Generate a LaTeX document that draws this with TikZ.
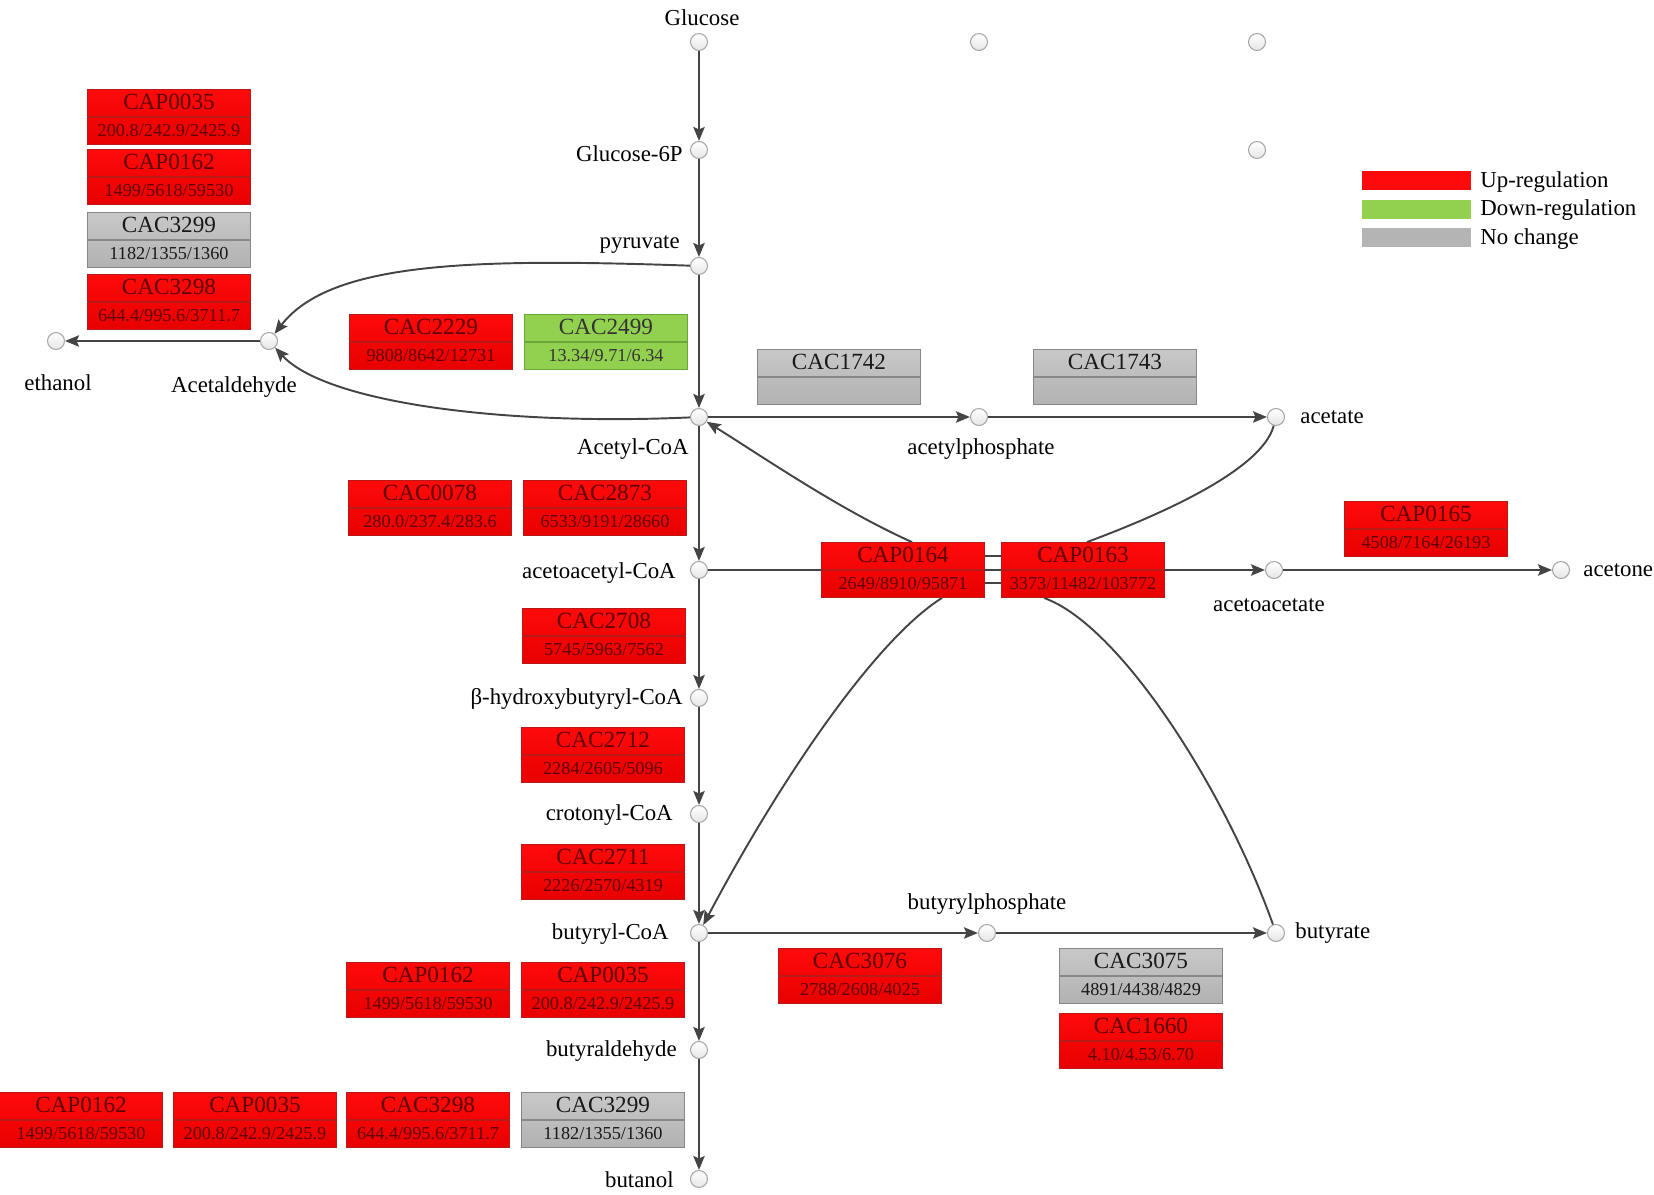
\documentclass[tikz,border=0pt]{standalone}
\usepackage{fontspec}
\setmainfont{Liberation Serif}
\usetikzlibrary{arrows.meta, shapes.multipart, calc}
\definecolor{upred}{RGB}{255,10,10}
\definecolor{upbot}{RGB}{232,0,0}
\definecolor{upedge}{RGB}{185,25,25}
\definecolor{uptext}{RGB}{95,0,0}
\definecolor{downgreen}{RGB}{146,208,80}
\definecolor{downedge}{RGB}{105,165,55}
\definecolor{nogray}{RGB}{200,200,200}
\definecolor{nobot}{RGB}{178,178,178}
\definecolor{noedge}{RGB}{135,135,135}
\definecolor{dark}{RGB}{68,68,68}
\newcommand{\gname}[1]{\rule[-4pt]{0pt}{15pt}\fontsize{13.2}{15}\selectfont #1}
\newcommand{\gval}[1]{\rule[-4pt]{0pt}{15pt}\fontsize{10.4}{12}\selectfont #1}
\tikzset{
    met/.style={circle, draw=gray!70, line width=0.6pt, top color=white, bottom color=gray!20, minimum size=0.34cm, inner sep=0pt},
    lab/.style={font=\fontsize{13}{15}\selectfont, inner sep=0pt},
    gene/.style={rectangle split, rectangle split parts=2, line width=0.6pt, minimum width=3.26cm, inner xsep=1pt, inner ysep=0pt, align=center},
    upbox/.style={gene, draw=upedge, top color=upred, bottom color=upbot, text=uptext},
    downbox/.style={gene, draw=downedge, fill=downgreen, text=black!80},
    nobox/.style={gene, draw=noedge, top color=nogray, bottom color=nobot, text=black!90},
    arr/.style={-{Stealth[length=8pt, width=6.5pt, inset=1.5pt]}, line width=1.1pt, dark},
    link/.style={line width=1.1pt, dark}
}
\begin{document}
\begin{tikzpicture}[x=0.02cm, y=-0.02cm]
    \useasboundingbox (0,0) rectangle (1654,1195);
    % metabolites
    \node[met] (glc) at (699,42) {};
    \node[met] (dummya) at (979,42) {};
    \node[met] (dummyb) at (1257,42) {};
    \node[met] (dummyc) at (1257,150) {};
    \node[met] (g6p) at (699,150) {};
    \node[met] (pyr) at (699,266) {};
    \node[met] (ald) at (269,341) {};
    \node[met] (etoh) at (56,341) {};
    \node[met] (acoa) at (699,417) {};
    \node[met] (acp) at (979,417) {};
    \node[met] (ace) at (1276,417) {};
    \node[met] (aacoa) at (699,570) {};
    \node[met] (aacet) at (1274,570) {};
    \node[met] (acetone) at (1561,570) {};
    \node[met] (hbcoa) at (699,698) {};
    \node[met] (crcoa) at (699,814) {};
    \node[met] (bcoa) at (699,933) {};
    \node[met] (bp) at (987,933) {};
    \node[met] (but) at (1276,933) {};
    \node[met] (bald) at (699,1050) {};
    \node[met] (buoh) at (699,1179) {};

    \node[lab] (lglc) at (702,18) {Glucose};
    \node[lab, anchor=east] (lg6p) at (683,154) {Glucose-6P};
    \node[lab, anchor=east] (lpyr) at (680,245) {pyruvate};
    \node[lab] (lald) at (234,387) {Acetaldehyde};
    \node[lab] (letoh) at (58,383) {ethanol};
    \node[lab, anchor=east] (lacoa) at (689,449) {Acetyl-CoA};
    \node[lab] (lacp) at (981,449) {acetylphosphate};
    \node[lab, anchor=west] (lace) at (1300,417) {acetate};
    \node[lab, anchor=east] (laacoa) at (676,573) {acetoacetyl-CoA};
    \node[lab] (laacet) at (1269,605) {acetoacetate};
    \node[lab, anchor=west] (lacetone) at (1583,570) {acetone};
    \node[lab, anchor=east] (lhbcoa) at (683,699) {β-hydroxybutyryl-CoA};
    \node[lab, anchor=east] (lcrcoa) at (673,815) {crotonyl-CoA};
    \node[lab, anchor=east] (lbcoa) at (669,934) {butyryl-CoA};
    \node[lab] (lbp) at (987,904) {butyrylphosphate};
    \node[lab, anchor=west] (lbut) at (1295,933) {butyrate};
    \node[lab, anchor=east] (lbald) at (677,1051) {butyraldehyde};
    \node[lab, anchor=east] (lbuoh) at (674,1180) {butanol};

    % reactions
    \draw[arr] (glc)--(g6p);
    \draw[arr] (g6p)--(pyr);
    \draw[arr] (pyr)--(acoa);
    \draw[arr] (acoa)--(aacoa);
    \draw[arr] (aacoa)--(hbcoa);
    \draw[arr] (hbcoa)--(crcoa);
    \draw[arr] (crcoa)--(bcoa);
    \draw[arr] (bcoa)--(bald);
    \draw[arr] (bald)--(buoh);
    \draw[arr] (pyr) .. controls (470,258) and (330,262) .. (ald);
    \draw[arr] (acoa) .. controls (500,426) and (325,402) .. (ald);
    \draw[arr] (ald)--(etoh);
    \draw[arr] (acoa)--(acp);
    \draw[arr] (acp)--(ace);
    \draw[arr] (aacoa)--(aacet);
    \draw[arr] (aacet)--(acetone);
    \draw[arr] (bcoa)--(bp);
    \draw[arr] (bp)--(but);

    % enzymes
    \node[upbox] (ethA) at (169,117) {\gname{CAP0035}\nodepart{two}\gval{200.8/242.9/2425.9}};
    \node[upbox] (ethB) at (169,177) {\gname{CAP0162}\nodepart{two}\gval{1499/5618/59530}};
    \node[nobox] (ethC) at (169,240) {\gname{CAC3299}\nodepart{two}\gval{1182/1355/1360}};
    \node[upbox] (ethD) at (169,302) {\gname{CAC3298}\nodepart{two}\gval{644.4/995.6/3711.7}};
    \node[upbox] (pflA) at (431,342) {\gname{CAC2229}\nodepart{two}\gval{9808/8642/12731}};
    \node[downbox] (pflB) at (606,342) {\gname{CAC2499}\nodepart{two}\gval{13.34/9.71/6.34}};
    \node[nobox] (pta) at (839,377) {\gname{CAC1742}\nodepart{two}\gval{}};
    \node[nobox] (ack) at (1115,377) {\gname{CAC1743}\nodepart{two}\gval{}};
    \node[upbox] (thlA) at (430,508) {\gname{CAC0078}\nodepart{two}\gval{280.0/237.4/283.6}};
    \node[upbox] (thlB) at (605,508) {\gname{CAC2873}\nodepart{two}\gval{6533/9191/28660}};
    \node[upbox] (adc) at (1426,529) {\gname{CAP0165}\nodepart{two}\gval{4508/7164/26193}};
    \node[upbox] (ctfA) at (903,570) {\gname{CAP0164}\nodepart{two}\gval{2649/8910/95871}};
    \node[upbox] (ctfB) at (1083,570) {\gname{CAP0163}\nodepart{two}\gval{3373/11482/103772}};
    \node[upbox] (hbd) at (604,636) {\gname{CAC2708}\nodepart{two}\gval{5745/5963/7562}};
    \node[upbox] (crt) at (603,755) {\gname{CAC2712}\nodepart{two}\gval{2284/2605/5096}};
    \node[upbox] (bcd) at (603,872) {\gname{CAC2711}\nodepart{two}\gval{2226/2570/4319}};
    \node[upbox] (aldA) at (428,990) {\gname{CAP0162}\nodepart{two}\gval{1499/5618/59530}};
    \node[upbox] (aldB) at (603,990) {\gname{CAP0035}\nodepart{two}\gval{200.8/242.9/2425.9}};
    \node[upbox] (ptb) at (860,976) {\gname{CAC3076}\nodepart{two}\gval{2788/2608/4025}};
    \node[nobox] (bukA) at (1141,976) {\gname{CAC3075}\nodepart{two}\gval{4891/4438/4829}};
    \node[upbox] (bukB) at (1141,1041) {\gname{CAC1660}\nodepart{two}\gval{4.10/4.53/6.70}};
    \node[upbox] (bdhA) at (81,1120) {\gname{CAP0162}\nodepart{two}\gval{1499/5618/59530}};
    \node[upbox] (bdhB) at (255,1120) {\gname{CAP0035}\nodepart{two}\gval{200.8/242.9/2425.9}};
    \node[upbox] (bdhC) at (428,1120) {\gname{CAC3298}\nodepart{two}\gval{644.4/995.6/3711.7}};
    \node[nobox] (bdhD) at (603,1120) {\gname{CAC3299}\nodepart{two}\gval{1182/1355/1360}};

    % CoA transferase
    \draw[link] ($(ctfA.east)+(0,-14)$)--($(ctfB.west)+(0,-14)$);
    \draw[link] ($(ctfA.east)+(0,13)$)--($(ctfB.west)+(0,13)$);
    \draw[arr] ($(ctfA.north)+(9,0)$) .. controls (840,510) and (760,455) .. (acoa);
    \draw[link] ($(ctfB.north)+(4,0)$) .. controls (1160,515) and (1262,470) .. (ace);
    \draw[arr] ($(ctfA.south)+(39,0)$) .. controls (875,640) and (780,780) .. (bcoa);
    \draw[link] ($(ctfB.south)+(-39,0)$) .. controls (1120,625) and (1225,790) .. (but);

    % legend
    \node[fill=upred, minimum width=2.18cm, minimum height=0.38cm, inner sep=0pt] (legup) at (1416,181) {};
    \node[fill=downgreen, minimum width=2.18cm, minimum height=0.38cm, inner sep=0pt] (legdown) at (1416,210) {};
    \node[fill=nogray!90!black, minimum width=2.18cm, minimum height=0.38cm, inner sep=0pt] (legno) at (1416,238) {};
    \node[lab, anchor=west] (lup) at (1480,182) {Up-regulation};
    \node[lab, anchor=west] (ldown) at (1480,210) {Down-regulation};
    \node[lab, anchor=west] (lno) at (1480,239) {No change};
\end{tikzpicture}
\end{document}
